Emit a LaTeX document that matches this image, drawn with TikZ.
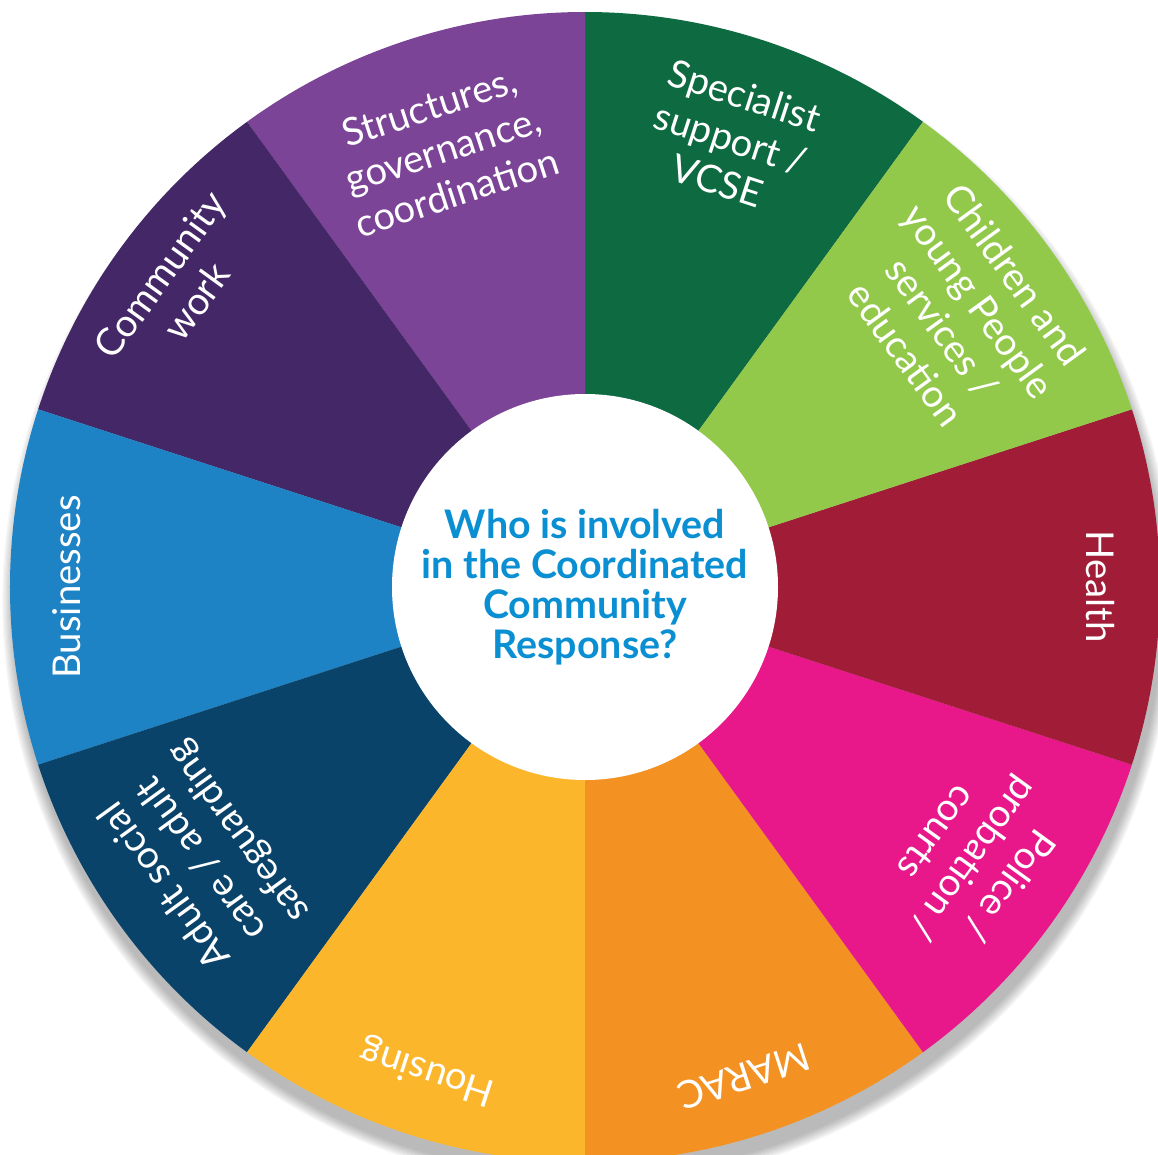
\documentclass[tikz,border=0pt]{standalone}
\usepackage{fontspec}
\setmainfont{Lato}
\usepackage{xcolor}
\usepackage{tikz}
\usetikzlibrary{calc,positioning}
\definecolor{specgreen}{RGB}{13,106,65}
\definecolor{childgreen}{RGB}{147,201,75}
\definecolor{healthred}{RGB}{161,28,55}
\definecolor{policepink}{RGB}{232,23,138}
\definecolor{maracorange}{RGB}{243,146,35}
\definecolor{housingyellow}{RGB}{251,182,44}
\definecolor{adultblue}{RGB}{10,67,105}
\definecolor{businessblue}{RGB}{29,131,197}
\definecolor{communitypurple}{RGB}{67,39,103}
\definecolor{structpurple}{RGB}{123,68,151}
\definecolor{hubblue}{RGB}{10,143,211}
\tikzstyle{spoketext} = [text=white, align=center, inner sep=0pt,
    font=\fontsize{10.9}{12.8}\selectfont]
\tikzstyle{hub} = [circle, fill=white, minimum size=3.86cm, inner sep=0pt,
    align=center, text=hubblue, font=\fontsize{11.2}{11.4}\selectfont\bfseries]

\begin{document}
\begin{tikzpicture}
\useasboundingbox (-5.85,-5.67) rectangle (5.73,5.87);
\foreach \k in {0,...,9}
  \fill[black, opacity=0.03] (0.03,-0.14) circle ({5.75+0.012*\k});
\foreach \start/\col in {54/specgreen, 90/structpurple, 126/communitypurple,
    162/businessblue, 198/adultblue, 234/housingyellow, 270/maracorange,
    306/policepink, 342/healthred, 18/childgreen}
  \fill[\col] (0,0) -- (\start:5.75) arc[start angle=\start, delta angle=36, radius=5.75] -- cycle;
\node[hub] (hub) at (0,0) {Who is involved\\ in the Coordinated\\ Community\\ Response?};
\node[spoketext, rotate=18] (structures) at (108:4.6) {Structures,\\ governance,\\ coordination};
\node[spoketext, rotate=-18] (specialist) at (72:4.72) {Specialist\\ support /\\ VCSE};
\node[spoketext, rotate=-54] (children) at (36:4.64) {Children and\\ young People\\ services /\\ education};
\node[spoketext, rotate=-90] (health) at (0:5.15) {Health};
\node[spoketext, rotate=-126] (police) at (-35:4.75) {Police /\\ probation /\\ courts};
\node[spoketext, rotate=-162] (marac) at (-72:5.15) {MARAC};
\node[spoketext, rotate=162] (housing) at (-108:5.09) {Housing};
\node[spoketext, rotate=126] (adult) at (-144.7:4.69) {Adult social\\ care / adult\\ safeguarding};
\node[spoketext, rotate=90] (businesses) at (180:5.18) {Businesses};
\node[spoketext, rotate=54] (community) at (143.7:5.05) {Community\\ work};
\end{tikzpicture}
\end{document}
